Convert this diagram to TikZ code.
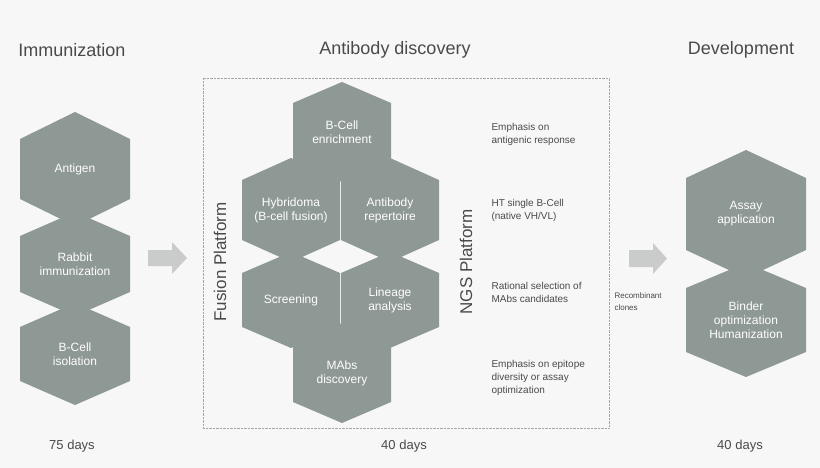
\documentclass[tikz,border=0pt]{standalone}
\usepackage{fontspec}
\setmainfont{Liberation Sans}
\definecolor{hexc}{HTML}{8E9895}
\definecolor{txt}{HTML}{4A4A4A}
\definecolor{arr}{HTML}{C9CCCA}
\definecolor{bg}{HTML}{F7F7F7}
\newcommand{\hexa}[7]{%
  \fill[hexc] (#2,#3-#5) -- (#2+#4,#3-#5+#6) -- (#2+#4,#3+#5-#6) -- (#2,#3+#5) -- (#2-#4,#3+#5-#6) -- (#2-#4,#3-#5+#6) -- cycle;
  \node[hextext] (#1) at (#2,#3) {#7};}
\begin{document}
\begin{tikzpicture}[x=1pt,y=-1pt,
  hextext/.style={text=white,font=\fontsize{12}{14}\selectfont,align=center},
  title/.style={text=txt,font=\fontsize{18}{20}\selectfont},
  days/.style={text=txt,font=\fontsize{13}{15}\selectfont},
  note/.style={text=txt,font=\fontsize{10}{13}\selectfont,align=left,anchor=west},
  plat/.style={text=txt,font=\fontsize{17}{19}\selectfont,rotate=90}]
\fill[bg] (0,0) rectangle (820,468);
\useasboundingbox (0,0) rectangle (820,468);
\node[title] (t1) at (72,50) {Immunization};
\node[title] (t2) at (395,50) {Antibody discovery};
\node[title] (t3) at (741,50) {Development};
\draw[densely dotted,gray!70] (203,78) rectangle (609,428);
\hexa{antigen}{75}{169}{55}{57}{27}{Antigen}
\hexa{rabbit}{75}{264}{55}{52}{24}{Rabbit\\immunization}
\hexa{bcell}{75}{354}{55}{51}{24}{B-Cell\\isolation}
\hexa{enrich}{342}{132}{49}{50}{21}{B-Cell\\enrichment}
\hexa{hybri}{291}{210}{49}{52}{22}{Hybridoma\\(B-cell fusion)}
\hexa{repert}{390}{210}{49}{52}{22}{Antibody\\repertoire}
\hexa{screen}{291}{300}{49}{48}{21}{Screening}
\hexa{lineage}{390}{300}{49}{48}{21}{Lineage\\analysis}
\hexa{mabs}{342}{373}{49}{50}{21}{MAbs\\discovery}
\hexa{assay}{746}{214}{60}{64}{28}{Assay\\application}
\hexa{binder}{746}{320}{60}{57}{25}{Binder\\optimization\\Humanization}
\node[plat] (fp) at (220,262) {Fusion Platform};
\node[plat] (ngs) at (466,262) {NGS Platform};
\node[note] (n1) at (488,134) {Emphasis on\\antigenic response};
\node[note] (n2) at (488,210) {HT single B-Cell\\(native VH/VL)};
\node[note] (n3) at (488,292) {Rational selection of\\MAbs candidates};
\node[note] (n4) at (488,378) {Emphasis on epitope\\diversity or assay\\optimization};
\node[note,font=\fontsize{8}{12}\selectfont] (rc) at (611,302) {Recombinant\\clones};
\fill[arr] (148,250) -- (172,250) -- (172,242) -- (187,258) -- (172,274) -- (172,266) -- (148,266) -- cycle;
\fill[arr] (629,250) -- (653,250) -- (653,243) -- (667,258.5) -- (653,274) -- (653,267) -- (629,267) -- cycle;
\coordinate (a1) at (167,258);
\coordinate (a2) at (648,258);
\node[days] (d1) at (72,446) {75 days};
\node[days] (d2) at (404,446) {40 days};
\node[days] (d3) at (740,446) {40 days};
\end{tikzpicture}
\end{document}
